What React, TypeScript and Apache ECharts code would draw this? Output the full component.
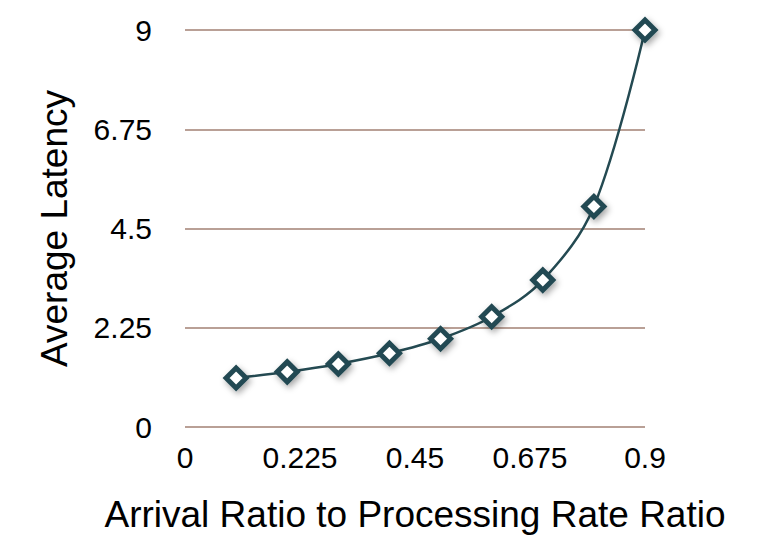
import React, { useEffect, useRef } from "react";
import * as echarts from "echarts";

const xValues = [0.1, 0.2, 0.3, 0.4, 0.5, 0.6, 0.7, 0.8, 0.9];
const yValues = [1.11, 1.25, 1.43, 1.67, 2.0, 2.5, 3.33, 5.0, 9.0];
const xTickLabels = ["0", "0.225", "0.45", "0.675", "0.9"];
const yTickLabels = ["0", "2.25", "4.5", "6.75", "9"];

export default function App() {
  const ref = useRef<HTMLDivElement>(null);
  useEffect(() => {
    if (!ref.current) return;
    const chart = echarts.init(ref.current, null, { renderer: "svg" });
    const font = "'Liberation Sans', Arial, Helvetica, sans-serif";
    chart.setOption({
      animation: false,
      backgroundColor: "#ffffff",
      grid: {
        left: 185,
        right: 113,
        top: 30,
        bottom: 110,
        containLabel: false,
        outerBoundsMode: "none",
      },
      xAxis: {
        type: "value",
        min: 0,
        max: 0.9,
        interval: 0.225,
        name: "Arrival Ratio to Processing Rate Ratio",
        nameLocation: "middle",
        nameGap: 69,
        nameTextStyle: { fontFamily: font, fontSize: 37, color: "#000" },
        axisLine: { show: false },
        axisTick: { show: false },
        splitLine: { show: false },
        axisLabel: {
          fontFamily: font,
          fontSize: 30,
          color: "#000",
          margin: 15,
          formatter: (v: number) => {
            const i = Math.round(v / 0.225);
            return xTickLabels[i] ?? "";
          },
        },
      },
      yAxis: {
        type: "value",
        min: 0,
        max: 9,
        interval: 2.25,
        name: "Average Latency",
        nameLocation: "middle",
        nameGap: 112,
        nameRotate: 90,
        nameTextStyle: { fontFamily: font, fontSize: 37, color: "#000" },
        axisLine: { show: false },
        axisTick: { show: false },
        splitLine: { show: true, lineStyle: { color: "#b9a096", width: 2 } },
        axisLabel: {
          fontFamily: font,
          fontSize: 30,
          color: "#000",
          margin: 33,
          formatter: (v: number) => {
            const i = Math.round(v / 2.25);
            return yTickLabels[i] ?? "";
          },
        },
      },
      series: [
        {
          type: "line",
          data: xValues.map((x, i) => [x, yValues[i]]),
          smooth: 0.35,
          symbol: "diamond",
          symbolSize: 20,
          showAllSymbol: true,
          lineStyle: { color: "#244a52", width: 2.5 },
          itemStyle: {
            color: "#ffffff",
            borderColor: "#244a52",
            borderWidth: 5,
            shadowColor: "rgba(0,0,0,0.35)",
            shadowBlur: 6,
            shadowOffsetX: 2,
            shadowOffsetY: 3,
          },
          z: 3,
        },
      ],
    });
    return () => chart.dispose();
  }, []);
  return <div ref={ref} style={{ width: 758, height: 537, position: "absolute", left: 0, top: 0 }} />;
}
